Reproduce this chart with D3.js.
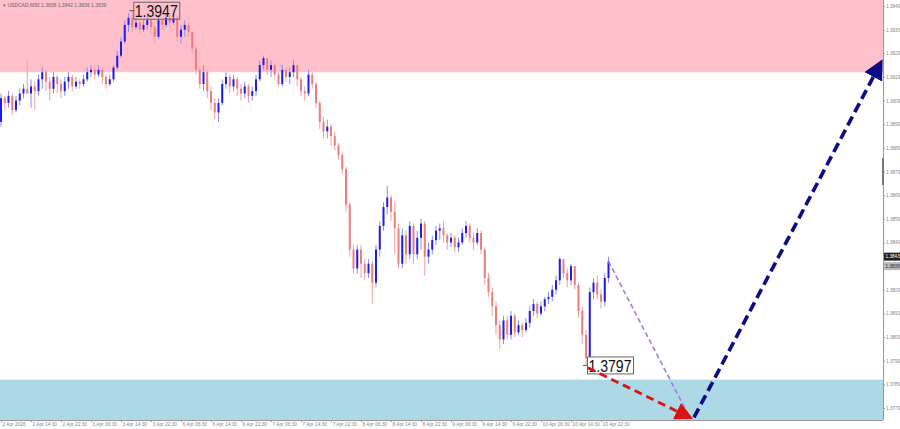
<!DOCTYPE html>
<html>
<head>
<meta charset="utf-8">
<script src="https://cdn.jsdelivr.net/npm/d3@7"></script>
<style>
  body { margin: 0; background: #fff; }
  svg { display: block; }
  text { font-family: "Liberation Sans", Arial, sans-serif; }
</style>
</head>
<body>
<svg></svg>
<script>
// H1 candles, open = previous close
var firstOpen = 1.3900;
var closes = [
  1.3910,1.3908,1.3911,1.3905,1.3909,1.3912,1.3914,1.3912,1.3915,1.3913,
  1.3918,1.3921,1.3917,1.3914,1.3919,1.3916,1.3913,1.3917,1.3919,1.3915,
  1.3917,1.3916,1.3918,1.3921,1.3922,1.3920,1.3922,1.3919,1.3916,1.3918,
  1.3923,1.3928,1.3934,1.3941,1.3944,1.3940,1.3942,1.3939,1.3941,1.3943,
  1.3940,1.3936,1.3943,1.3941,1.3944,1.3942,1.3944,1.3936,1.3939,1.3941,
  1.3938,1.3931,1.3922,1.3916,1.3921,1.3913,1.3908,1.3904,1.3908,1.3916,
  1.3919,1.3915,1.3918,1.3914,1.3912,1.3915,1.3911,1.3913,1.3918,1.3924,
  1.3927,1.3922,1.3924,1.3920,1.3916,1.3922,1.3919,1.3921,1.3924,1.3918,
  1.3913,1.3912,1.3920,1.3916,1.3908,1.3900,1.3896,1.3898,1.3894,1.3890,
  1.3886,1.3880,1.3865,1.3846,1.3838,1.3846,1.3840,1.3836,1.3840,1.3832,
  1.3846,1.3856,1.3864,1.3868,1.3862,1.3855,1.3840,1.3852,1.3844,1.3856,
  1.3844,1.3851,1.3857,1.3843,1.3846,1.3850,1.3854,1.3855,1.3852,1.3849,
  1.3851,1.3847,1.3849,1.3853,1.3856,1.3851,1.3849,1.3853,1.3846,1.3834,
  1.3828,1.3822,1.3814,1.3808,1.3816,1.3810,1.3818,1.3811,1.3814,1.3812,
  1.3815,1.3820,1.3823,1.3819,1.3822,1.3825,1.3826,1.3829,1.3833,1.3842,
  1.3836,1.3833,1.3839,1.3831,1.3820,1.3810,1.3800,1.3828,1.3832,1.3827,
  1.3824,1.3834,1.3841
];
var highs = [
  1.3912,1.3911,1.3913,1.3912,1.3911,1.3914,1.3916,1.3926,1.3918,1.3917,
  1.3920,1.3923,1.3922,1.3919,1.3921,1.3920,1.3918,1.3919,1.3921,1.3920,
  1.3919,1.3918,1.3920,1.3923,1.3924,1.3923,1.3924,1.3923,1.3920,1.3920,
  1.3924,1.3930,1.3936,1.3943,1.3946,1.3947,1.3944,1.3943,1.3943,1.3945,
  1.3944,1.3941,1.3945,1.3944,1.3946,1.3945,1.3946,1.3945,1.3941,1.3943,
  1.3942,1.3938,1.3932,1.3923,1.3924,1.3922,1.3915,1.3910,1.3910,1.3918,
  1.3921,1.3920,1.3920,1.3919,1.3916,1.3917,1.3916,1.3915,1.3920,1.3926,
  1.3928,1.3927,1.3926,1.3925,1.3921,1.3924,1.3923,1.3923,1.3926,1.3924,
  1.3919,1.3915,1.3922,1.3921,1.3917,1.3909,1.3902,1.3901,1.3899,1.3896,
  1.3891,1.3887,1.3881,1.3866,1.3848,1.3848,1.3848,1.3842,1.3842,1.3841,
  1.3848,1.3858,1.3866,1.3873,1.3869,1.3866,1.3857,1.3855,1.3854,1.3858,
  1.3857,1.3854,1.3859,1.3858,1.3849,1.3852,1.3856,1.3857,1.3858,1.3853,
  1.3853,1.3852,1.3851,1.3855,1.3858,1.3857,1.3853,1.3855,1.3854,1.3847,
  1.3836,1.3830,1.3824,1.3816,1.3818,1.3818,1.3820,1.3819,1.3816,1.3815,
  1.3817,1.3822,1.3825,1.3824,1.3824,1.3826,1.3828,1.3831,1.3835,1.3843,
  1.3842,1.3838,1.3840,1.3839,1.3832,1.3822,1.3812,1.3830,1.3834,1.3835,
  1.3829,1.3836,1.3843
];
var lows = [
  1.3898,1.3905,1.3906,1.3903,1.3904,1.3907,1.3910,1.3912,1.3906,1.3905,
  1.3911,1.3914,1.3913,1.3909,1.3912,1.3912,1.3910,1.3911,1.3914,1.3913,
  1.3914,1.3914,1.3915,1.3917,1.3919,1.3918,1.3919,1.3916,1.3914,1.3915,
  1.3917,1.3922,1.3927,1.3933,1.3938,1.3938,1.3939,1.3937,1.3938,1.3939,
  1.3937,1.3933,1.3935,1.3939,1.3940,1.3940,1.3941,1.3934,1.3933,1.3936,
  1.3936,1.3929,1.3920,1.3914,1.3913,1.3910,1.3905,1.3901,1.3900,1.3907,
  1.3914,1.3912,1.3913,1.3911,1.3909,1.3910,1.3908,1.3909,1.3911,1.3917,
  1.3922,1.3920,1.3919,1.3918,1.3915,1.3915,1.3917,1.3916,1.3919,1.3915,
  1.3911,1.3909,1.3911,1.3914,1.3906,1.3897,1.3893,1.3893,1.3890,1.3888,
  1.3884,1.3878,1.3862,1.3843,1.3836,1.3836,1.3834,1.3833,1.3834,1.3823,
  1.3830,1.3843,1.3854,1.3861,1.3858,1.3844,1.3838,1.3838,1.3840,1.3842,
  1.3840,1.3842,1.3846,1.3835,1.3840,1.3844,1.3848,1.3850,1.3849,1.3846,
  1.3847,1.3845,1.3845,1.3848,1.3851,1.3849,1.3846,1.3848,1.3844,1.3831,
  1.3826,1.3818,1.3810,1.3804,1.3806,1.3808,1.3808,1.3809,1.3810,1.3809,
  1.3811,1.3813,1.3818,1.3817,1.3818,1.3820,1.3823,1.3824,1.3827,1.3831,
  1.3834,1.3830,1.3831,1.3829,1.3817,1.3806,1.3797,1.3799,1.3825,1.3825,
  1.3821,1.3822,1.3832
];

var timeLabels = ["2 Apr 2026","2 Apr 14:30","2 Apr 22:30","3 Apr 06:30","3 Apr 14:30",
  "3 Apr 22:30","6 Apr 06:30","6 Apr 14:30","6 Apr 22:30","7 Apr 06:30","7 Apr 14:30",
  "7 Apr 22:30","8 Apr 06:30","8 Apr 14:30","8 Apr 22:30","9 Apr 06:30","9 Apr 14:30",
  "9 Apr 22:30","10 Apr 06:30","10 Apr 14:30","10 Apr 22:30"];
var barsPerLabel = 8;
var priceTicks = [1.3949,1.3939,1.3929,1.3919,1.3909,1.3899,1.3889,1.3879,1.3869,
  1.3859,1.3849,1.3839,1.3829,1.3819,1.3809,1.3799,1.3789,1.3779];

var sellZone = [1.3921, 1.3960];   // pink
var buyZone = [1.3770, 1.3791];    // light blue
var highMark = {i: 35, price: 1.3947};
var lowMark = {i: 156, price: 1.3797};
var bidPrice = 1.3843, askPrice = 1.3839;
var header = "\u25BE USDCAD,M30  1.3838 1.3842 1.3836 1.3839";

// forecast paths [bar index, price]
var purplePath = [[162, 1.3841], [183, 1.3777]];
var redPath = [[156.5, 1.3796], [183.7, 1.3775]];
var navyPath = [[184.8, 1.3775], [234.6, 1.3925]];

var width = 900, height = 429;
var plotR = 883, plotB = 420;

var svg = d3.select("svg").attr("width", width).attr("height", height);

var x = d3.scaleLinear().domain([0, 235]).range([1, 882.25]);
var y = d3.scaleLinear().domain([1.3779, 1.3949]).range([408, 6]);

var candles = closes.map(function(c, i){
  return {i: i, o: i == 0 ? firstOpen : closes[i-1], c: c, h: highs[i], l: lows[i]};
});

var plot = svg.append("g");
plot.append("defs").append("clipPath").attr("id", "clip")
    .append("rect").attr("width", plotR).attr("height", plotB);

// zones
plot.append("rect")
    .attr("x", 0).attr("width", plotR)
    .attr("y", 0).attr("height", y(sellZone[0]))
    .attr("fill", "#ffc0cb");
plot.append("rect")
    .attr("x", 0).attr("width", plotR)
    .attr("y", y(buyZone[1])).attr("height", plotB - y(buyZone[1]))
    .attr("fill", "#add8e6");

plot.append("text")
    .attr("x", 3).attr("y", 7)
    .attr("font-size", 5).attr("fill", "#666")
    .text(header);

// candles
var cg = plot.append("g").attr("clip-path", "url(#clip)");
cg.selectAll("line.wick")
  .data(candles)
  .enter()
  .append("line")
  .attr("class", "wick")
  .attr("x1", function(d){ return x(d.i); })
  .attr("x2", function(d){ return x(d.i); })
  .attr("y1", function(d){ return y(d.h); })
  .attr("y2", function(d){ return y(d.l); })
  .attr("stroke", function(d){ return d.c >= d.o ? "#8c8cf2" : "#f0a2a2"; })
  .attr("stroke-width", 1);
cg.selectAll("rect.body")
  .data(candles)
  .enter()
  .append("rect")
  .attr("class", "body")
  .attr("x", function(d){ return x(d.i) - 1; })
  .attr("width", 2)
  .attr("y", function(d){ return y(Math.max(d.o, d.c)); })
  .attr("height", function(d){ return Math.max(1, Math.abs(y(d.o) - y(d.c))); })
  .attr("fill", function(d){ return d.c >= d.o ? "#1c1cec" : "#f07c7c"; });

// extreme labels
function markLabel(m, bg){
  var px = x(m.i), py = y(m.price);
  plot.append("line")
      .attr("x1", px - 3).attr("x2", px + 2)
      .attr("y1", py).attr("y2", py)
      .attr("stroke", "#555").attr("stroke-width", 1);
  plot.append("rect")
      .attr("x", px + 1.5).attr("y", py - 8.5)
      .attr("width", 46).attr("height", 17)
      .attr("fill", bg).attr("stroke", "#666").attr("stroke-width", 1);
  plot.append("text")
      .attr("x", px + 2.5).attr("y", py + 6.5)
      .attr("font-size", 17).attr("fill", "#111")
      .attr("textLength", 43).attr("lengthAdjust", "spacingAndGlyphs")
      .text(d3.format(".4f")(m.price));
}
markLabel(highMark, "none");
markLabel(lowMark, "#fff");

// forecast arrows
var defs = svg.append("defs");
function arrowHead(id, color, size){
  defs.append("marker")
      .attr("id", id)
      .attr("viewBox", "0 0 10 10")
      .attr("refX", 8).attr("refY", 5)
      .attr("markerUnits", "userSpaceOnUse")
      .attr("markerWidth", size).attr("markerHeight", size)
      .attr("orient", "auto")
      .append("path").attr("d", "M0,0 L10,5 L0,10 Z").attr("fill", color);
}
arrowHead("redHead", "#d81414", 18);
arrowHead("navyHead", "#0c0c86", 20);

var line = d3.line()
  .x(function(d){ return x(d[0]); })
  .y(function(d){ return y(d[1]); });

plot.append("path").datum(purplePath)
    .attr("d", line).attr("fill", "none")
    .attr("stroke", "#a47ae6").attr("stroke-width", 1.6)
    .attr("stroke-dasharray", "5,3");
plot.append("path").datum(redPath)
    .attr("d", line).attr("fill", "none")
    .attr("stroke", "#d81414").attr("stroke-width", 2.8)
    .attr("stroke-dasharray", "8,5")
    .attr("marker-end", "url(#redHead)");
plot.append("path").datum(navyPath)
    .attr("d", line).attr("fill", "none")
    .attr("stroke", "#0c0c86").attr("stroke-width", 3.6)
    .attr("stroke-dasharray", "10,5")
    .attr("marker-end", "url(#navyHead)");

// axes
var yAxis = d3.axisRight(y).tickValues(priceTicks).tickSize(2).tickFormat(d3.format(".4f"));
var ya = svg.append("g")
   .attr("transform", "translate(" + plotR + ",0)")
   .call(yAxis);
ya.select(".domain").attr("d", "M0.5,0V" + plotB).attr("stroke", "#999");
ya.selectAll(".tick line").attr("stroke", "#999");
ya.selectAll(".tick text")
  .attr("font-family", "Liberation Sans, Arial, sans-serif")
  .attr("font-size", 4.7).attr("fill", "#888").attr("x", 3);

svg.append("rect")
   .attr("x", plotR - 1).attr("y", 158).attr("width", 2).attr("height", 27)
   .attr("fill", "#777");

var xAxis = d3.axisBottom(x)
  .tickValues(timeLabels.map(function(d, i){ return i * barsPerLabel; }))
  .tickSize(2)
  .tickFormat(function(d, i){ return timeLabels[i]; });
var xa = svg.append("g")
   .attr("transform", "translate(0," + plotB + ")")
   .call(xAxis);
xa.select(".domain").attr("d", "M0," + 0.5 + "H" + plotR).attr("stroke", "#999");
xa.selectAll(".tick line").attr("stroke", "#999");
xa.selectAll(".tick text")
  .attr("font-family", "Liberation Sans, Arial, sans-serif")
  .attr("font-size", 4.8).attr("fill", "#888")
  .attr("text-anchor", "start").attr("dx", 1).attr("y", 3);

// current price labels
function priceTag(p, bg, fg){
  var g = svg.append("g").attr("transform", "translate(" + (plotR + 1) + "," + y(p) + ")");
  g.append("rect").attr("x", 0).attr("y", -4).attr("width", 16).attr("height", 8).attr("fill", bg);
  g.append("text").attr("x", 1.5).attr("y", 1.8)
   .attr("font-size", 4.7).attr("fill", fg).text(d3.format(".4f")(p));
}
priceTag(askPrice, "#b8b8b8", "#333");
priceTag(bidPrice, "#222", "#fff");
</script>
</body>
</html>
